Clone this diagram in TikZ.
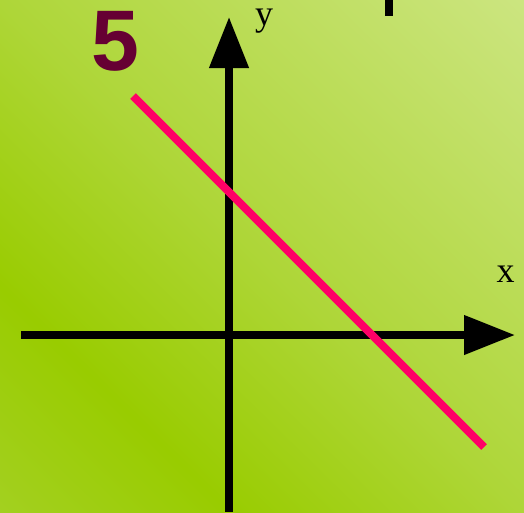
\documentclass[tikz,border=0pt]{standalone}
\usepackage{fontspec}
\setmainfont{Liberation Serif}
\newfontfamily\numfont{Liberation Sans}
\usetikzlibrary{arrows.meta}
\definecolor{pinkline}{HTML}{FF0066}
\definecolor{maroon}{HTML}{660033}
\pgfdeclarefunctionalshading{bgshade}{\pgfpoint{0bp}{0bp}}{\pgfpoint{100bp}{100bp}}{}{
add 50 sub 100 div
dup 0 lt {pop 0} if
dup 1 gt {pop 1} if
dup 0.22 lt
{ 0.22 div
  dup -10 mul 163 add 255 div exch
  dup -4 mul 208 add 255 div exch
  -32 mul 32 add 255 div }
{ dup 0.5 lt
  { 0.22 sub 0.28 div
    dup 21 mul 153 add 255 div exch
    dup 10 mul 204 add 255 div exch
    56 mul 255 div }
  { 0.5 sub 0.5 div
    dup 30 mul 174 add 255 div exch
    dup 15 mul 214 add 255 div exch
    72 mul 56 add 255 div }
  ifelse }
ifelse
}
\tikzset{
  axisline/.style={line width=7.5pt, black, -{Triangle[length=51pt,width=38pt]}},
  graphline/.style={line width=8pt, pinkline},
  axislabel/.style={font=\fontsize{36}{36}\selectfont, inner sep=0pt, anchor=base},
  bignum/.style={font=\numfont\bfseries\fontsize{86}{86}\selectfont, text=maroon, inner sep=0pt, anchor=base}
}
\begin{document}
\begin{tikzpicture}[x=1pt,y=-1pt]
\useasboundingbox (0,0) rectangle (524,512);
\shade[shading=bgshade] (0,0) rectangle (524,512);
% coordinates
\coordinate (ybot) at (229,512);
\coordinate (ytop) at (229,17);
\coordinate (xleft) at (21,335);
\coordinate (xright) at (515,335);
\coordinate (lstart) at (133,96);
\coordinate (lend) at (484,447);
\coordinate (bartop) at (389,0);
\coordinate (barbot) at (389,15.5);
% axes
\draw[axisline] (ybot) -- (ytop);
\draw[axisline] (xleft) -- (xright);
% graph line
\draw[graphline] (lstart) -- (lend);
% small bar at top
\draw[line width=8pt, black] (bartop) -- (barbot);
% labels
\node[axislabel] (ylab) at (264,25) {y};
\node[axislabel] (xlab) at (505.5,282) {x};
\node[bignum] (five) at (115,70) {5};
\end{tikzpicture}
\end{document}
